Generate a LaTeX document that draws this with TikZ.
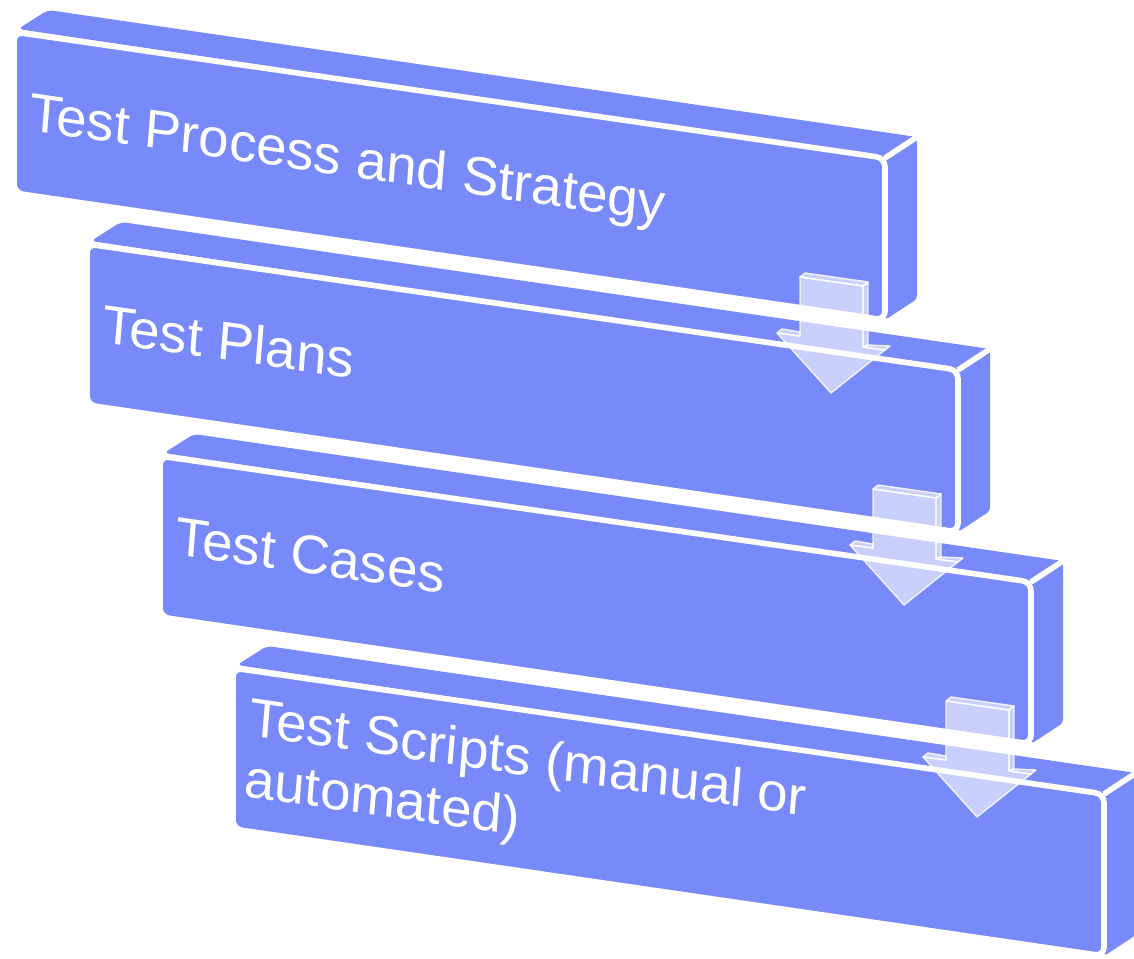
\documentclass[tikz,border=0pt]{standalone}
\usepackage{fontspec}
\setmainfont{Liberation Sans}
\definecolor{boxblue}{RGB}{120,138,250}

\begin{document}
\begin{tikzpicture}[x=0.02cm,y=-0.02cm,
  face/.style={fill=boxblue},
  gap/.style={draw=white,line width=3.2pt},
  label/.style={text=white,inner sep=0pt,anchor=base west,align=left,
    yslant=-0.145,xslant=0.08,font=\fontsize{31}{35}\selectfont},
  flow/.style={fill=white,fill opacity=0.6,draw=white,draw opacity=0.85,
    line width=0.8pt,line join=round}]
  \useasboundingbox (0,0) rectangle (1134,959);

  \begin{scope}[shift={(0,0)}]
    \fill[face,rounded corners=3pt] (18,29) -- (48,10) -- (917,137) -- (885,158) -- cycle;
    \fill[face,rounded corners=2pt] (885,158) -- (917,137) -- (917,299) -- (885,320) -- cycle;
    \filldraw[face,gap,rounded corners=5pt] (14,32) -- (885,158) -- (885,320) -- (14,193) -- cycle;
    \draw[gap] (885,158) -- (917,137);
  \end{scope}
  \begin{scope}[shift={(73,212)}]
    \fill[face,rounded corners=3pt] (18,29) -- (48,10) -- (917,137) -- (885,158) -- cycle;
    \fill[face,rounded corners=2pt] (885,158) -- (917,137) -- (917,299) -- (885,320) -- cycle;
    \filldraw[face,gap,rounded corners=5pt] (14,32) -- (885,158) -- (885,320) -- (14,193) -- cycle;
    \draw[gap] (885,158) -- (917,137);
  \end{scope}
  \begin{scope}[shift={(146,424)}]
    \fill[face,rounded corners=3pt] (18,29) -- (48,10) -- (917,137) -- (885,158) -- cycle;
    \fill[face,rounded corners=2pt] (885,158) -- (917,137) -- (917,299) -- (885,320) -- cycle;
    \filldraw[face,gap,rounded corners=5pt] (14,32) -- (885,158) -- (885,320) -- (14,193) -- cycle;
    \draw[gap] (885,158) -- (917,137);
  \end{scope}
  \begin{scope}[shift={(219,636)}]
    \fill[face,rounded corners=3pt] (18,29) -- (48,10) -- (917,137) -- (885,158) -- cycle;
    \fill[face,rounded corners=2pt] (885,158) -- (917,137) -- (917,299) -- (885,320) -- cycle;
    \filldraw[face,gap,rounded corners=5pt] (14,32) -- (885,158) -- (885,320) -- (14,193) -- cycle;
    \draw[gap] (885,158) -- (917,137);
  \end{scope}

  \node[label] (strategy) at (28,130)  {Test Process and Strategy};
  \node[label] (plans)    at (101,342) {Test Plans};
  \node[label] (cases)    at (174,554) {Test Cases};
  \node[label] (scripts)  at (243,796) {Test Scripts (manual or\\automated)};

  \begin{scope}[shift={(0,0)}]
    \filldraw[flow] (800,277) -- (863,286) -- (863,347) -- (885,350) -- (831,393) -- (777,333) -- (800,336) -- cycle;
    \filldraw[flow] (800,277) -- (805,273) -- (868,282) -- (863,286) -- cycle;
    \filldraw[flow] (863,286) -- (868,282) -- (868,345) -- (863,347) -- cycle;
    \filldraw[flow] (777,333) -- (782,329) -- (800,332) -- (800,336) -- cycle;
    \filldraw[flow] (868,345) -- (890,346) -- (885,350) -- (863,347) -- cycle;
  \end{scope}
  \begin{scope}[shift={(73,212)}]
    \filldraw[flow] (800,277) -- (863,286) -- (863,347) -- (885,350) -- (831,393) -- (777,333) -- (800,336) -- cycle;
    \filldraw[flow] (800,277) -- (805,273) -- (868,282) -- (863,286) -- cycle;
    \filldraw[flow] (863,286) -- (868,282) -- (868,345) -- (863,347) -- cycle;
    \filldraw[flow] (777,333) -- (782,329) -- (800,332) -- (800,336) -- cycle;
    \filldraw[flow] (868,345) -- (890,346) -- (885,350) -- (863,347) -- cycle;
  \end{scope}
  \begin{scope}[shift={(146,424)}]
    \filldraw[flow] (800,277) -- (863,286) -- (863,347) -- (885,350) -- (831,393) -- (777,333) -- (800,336) -- cycle;
    \filldraw[flow] (800,277) -- (805,273) -- (868,282) -- (863,286) -- cycle;
    \filldraw[flow] (863,286) -- (868,282) -- (868,345) -- (863,347) -- cycle;
    \filldraw[flow] (777,333) -- (782,329) -- (800,332) -- (800,336) -- cycle;
    \filldraw[flow] (868,345) -- (890,346) -- (885,350) -- (863,347) -- cycle;
  \end{scope}
\end{tikzpicture}
\end{document}
